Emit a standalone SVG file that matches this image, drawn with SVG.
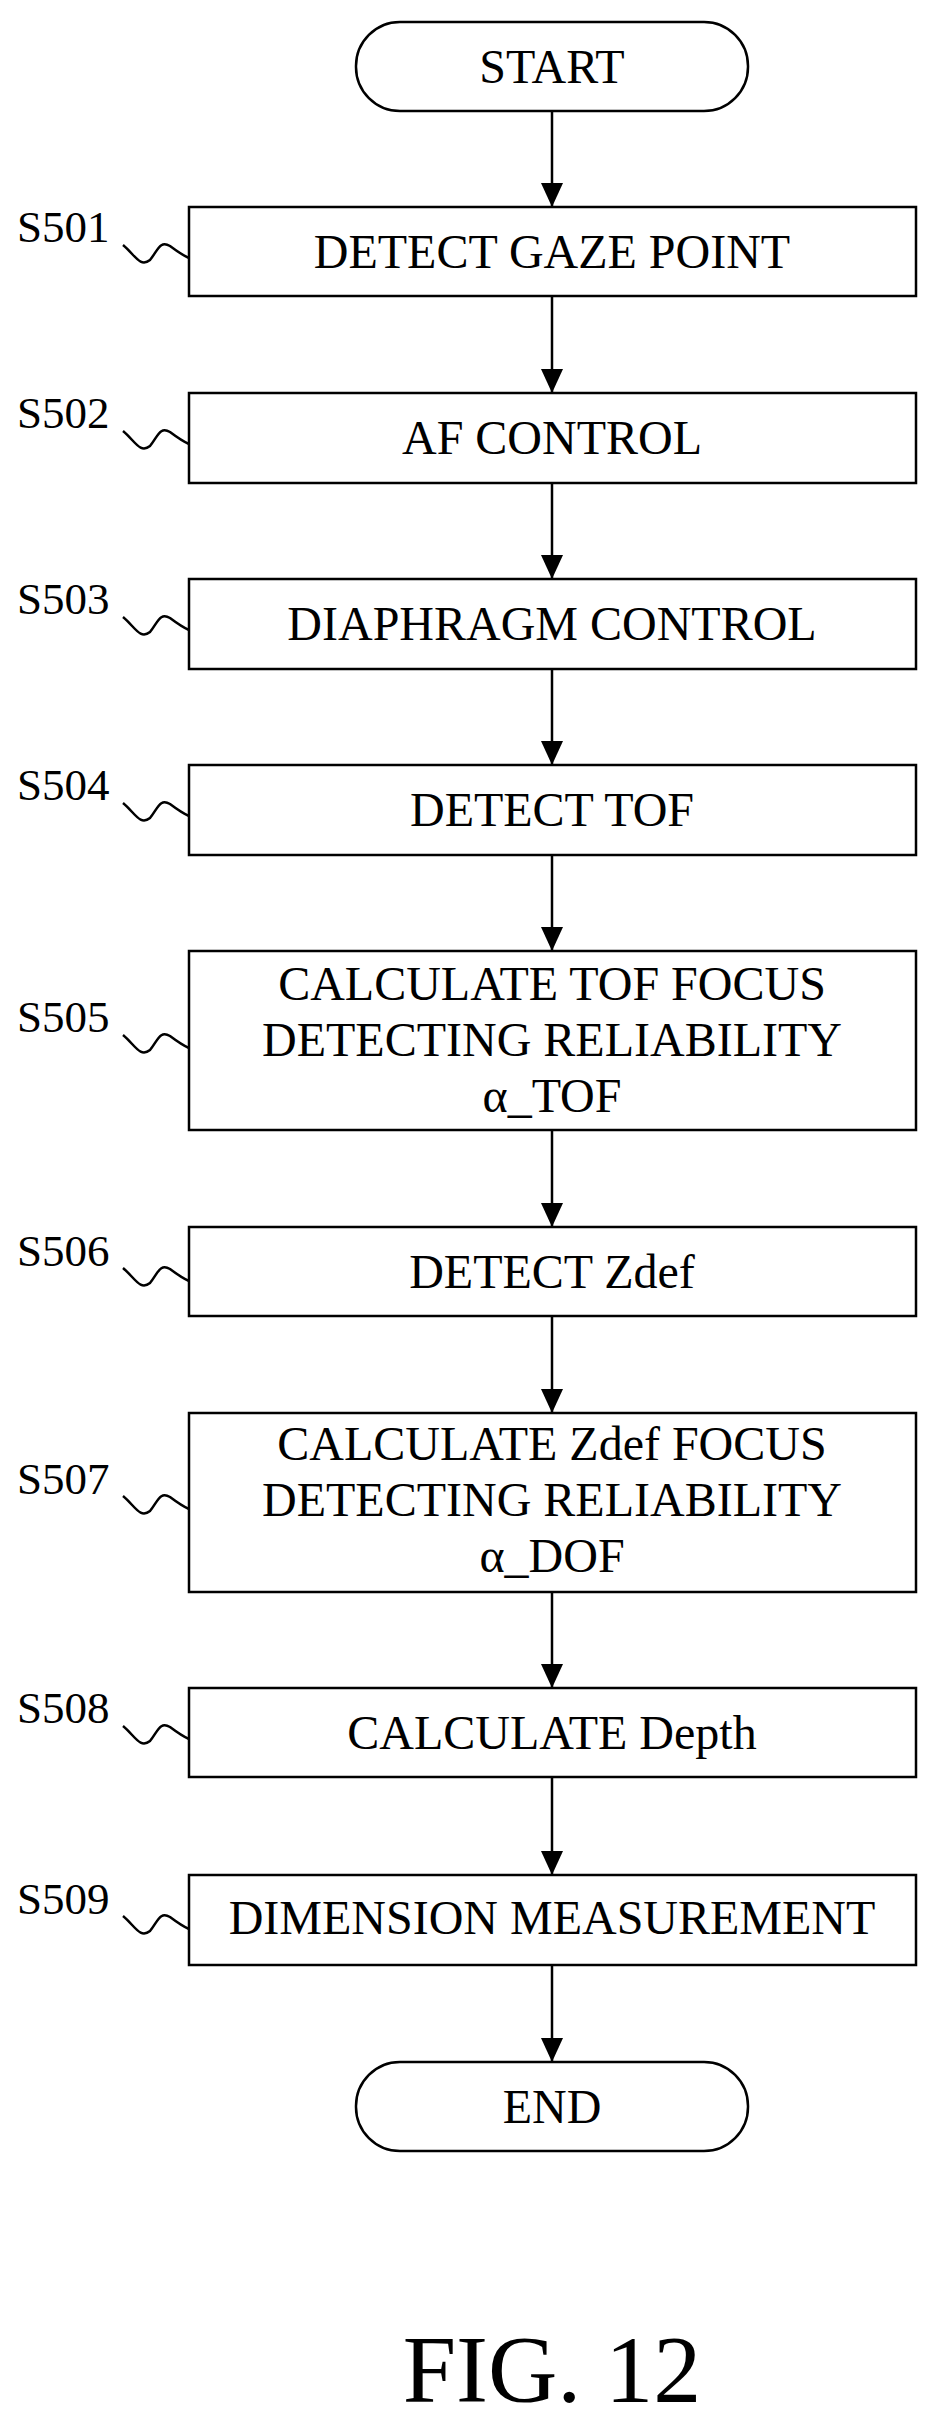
<svg xmlns="http://www.w3.org/2000/svg" width="933" height="2421" viewBox="0 0 933 2421">
<style>
.b{fill:#fff;stroke:#000;stroke-width:2.5}
.t{font-family:"Liberation Serif",serif;font-size:48px;text-anchor:middle;fill:#000}
.l{font-family:"Liberation Serif",serif;font-size:45px;fill:#000}
.c{stroke:#000;stroke-width:2.5;fill:none}
</style>
<defs><marker id="h" markerWidth="24" markerHeight="22" refX="24" refY="11" orient="auto" markerUnits="userSpaceOnUse"><path d="M0,0 L24,11 L0,22 Z" fill="#000"/></marker></defs>
<g id="connectors">
<line class="c" x1="552" y1="111" x2="552" y2="207" marker-end="url(#h)"/>
<line class="c" x1="552" y1="296" x2="552" y2="393" marker-end="url(#h)"/>
<line class="c" x1="552" y1="483" x2="552" y2="579" marker-end="url(#h)"/>
<line class="c" x1="552" y1="669" x2="552" y2="765" marker-end="url(#h)"/>
<line class="c" x1="552" y1="855" x2="552" y2="951" marker-end="url(#h)"/>
<line class="c" x1="552" y1="1130" x2="552" y2="1227" marker-end="url(#h)"/>
<line class="c" x1="552" y1="1316" x2="552" y2="1413" marker-end="url(#h)"/>
<line class="c" x1="552" y1="1592" x2="552" y2="1688" marker-end="url(#h)"/>
<line class="c" x1="552" y1="1777" x2="552" y2="1875" marker-end="url(#h)"/>
<line class="c" x1="552" y1="1965" x2="552" y2="2062" marker-end="url(#h)"/>
</g>
<g id="start"><rect class="b" x="356" y="22" width="392" height="89" rx="44"/><text class="t" x="552" y="83">START</text></g>
<g id="s501"><rect class="b" x="189" y="207" width="727" height="89"/><text class="t" x="552" y="268">DETECT GAZE POINT</text><text class="l" x="17" y="242">S501</text><path class="c" d="M123,245 C135,255 140,268 150,260 C158,250 160,240 170,246 C178,252 182,255 189,258"/></g>
<g id="s502"><rect class="b" x="189" y="393" width="727" height="90"/><text class="t" x="552" y="454">AF CONTROL</text><text class="l" x="17" y="428">S502</text><path class="c" d="M123,431 C135,441 140,454 150,446 C158,436 160,426 170,432 C178,438 182,441 189,444"/></g>
<g id="s503"><rect class="b" x="189" y="579" width="727" height="90"/><text class="t" x="552" y="640">DIAPHRAGM CONTROL</text><text class="l" x="17" y="614">S503</text><path class="c" d="M123,617 C135,627 140,640 150,632 C158,622 160,612 170,618 C178,624 182,627 189,630"/></g>
<g id="s504"><rect class="b" x="189" y="765" width="727" height="90"/><text class="t" x="552" y="826">DETECT TOF</text><text class="l" x="17" y="800">S504</text><path class="c" d="M123,803 C135,813 140,826 150,818 C158,808 160,798 170,804 C178,810 182,813 189,816"/></g>
<g id="s505"><rect class="b" x="189" y="951" width="727" height="179"/><text class="t" x="552" y="1000">CALCULATE TOF FOCUS</text><text class="t" x="552" y="1056">DETECTING RELIABILITY</text><text class="t" x="552" y="1112">α_TOF</text><text class="l" x="17" y="1032">S505</text><path class="c" d="M123,1035 C135,1045 140,1058 150,1050 C158,1040 160,1030 170,1036 C178,1042 182,1045 189,1048"/></g>
<g id="s506"><rect class="b" x="189" y="1227" width="727" height="89"/><text class="t" x="552" y="1288">DETECT Zdef</text><text class="l" x="17" y="1266">S506</text><path class="c" d="M123,1268 C135,1278 140,1291 150,1283 C158,1273 160,1263 170,1269 C178,1275 182,1278 189,1281"/></g>
<g id="s507"><rect class="b" x="189" y="1413" width="727" height="179"/><text class="t" x="552" y="1460">CALCULATE Zdef FOCUS</text><text class="t" x="552" y="1516">DETECTING RELIABILITY</text><text class="t" x="552" y="1572">α_DOF</text><text class="l" x="17" y="1494">S507</text><path class="c" d="M123,1496 C135,1506 140,1519 150,1511 C158,1501 160,1491 170,1497 C178,1503 182,1506 189,1509"/></g>
<g id="s508"><rect class="b" x="189" y="1688" width="727" height="89"/><text class="t" x="552" y="1749">CALCULATE Depth</text><text class="l" x="17" y="1723">S508</text><path class="c" d="M123,1726 C135,1736 140,1749 150,1741 C158,1731 160,1721 170,1727 C178,1733 182,1736 189,1739"/></g>
<g id="s509"><rect class="b" x="189" y="1875" width="727" height="90"/><text class="t" x="552" y="1934">DIMENSION MEASUREMENT</text><text class="l" x="17" y="1914">S509</text><path class="c" d="M123,1916 C135,1926 140,1939 150,1931 C158,1921 160,1911 170,1917 C178,1923 182,1926 189,1929"/></g>
<g id="end"><rect class="b" x="356" y="2062" width="392" height="89" rx="44"/><text class="t" x="552" y="2123">END</text></g>
<text x="552" y="2402" font-family="Liberation Serif,serif" font-size="96" text-anchor="middle">FIG. 12</text>
</svg>
